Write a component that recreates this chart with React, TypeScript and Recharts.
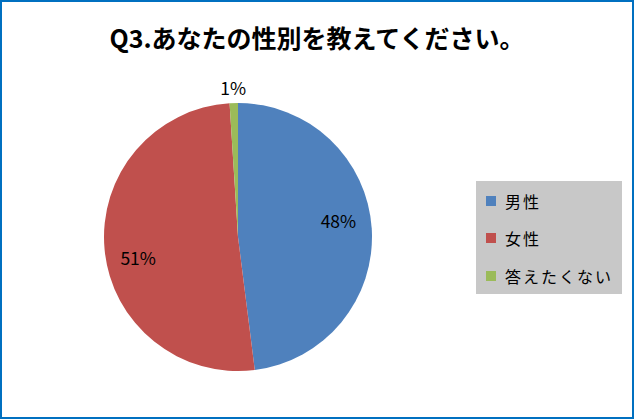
import { Legend, Pie, PieChart, Cell } from "recharts";

const categories = ["男性", "女性", "答えたくない"];
const values = [48, 51, 1];
const colors = ["#4F81BD", "#C0504D", "#9BBB59"];

const data = categories.map((name, i) => ({ name, value: values[i] }));

const RAD = Math.PI / 180;
const FONT = "'Noto Sans CJK JP', 'Noto Sans', sans-serif";

function renderLabel(props: any) {
  const { cx, cy, midAngle, outerRadius, percent } = props;
  const small = percent < 0.05;
  const r = small ? outerRadius + 16 : outerRadius * 0.76;
  const a = small ? midAngle : midAngle + 6;
  const x = cx + r * Math.cos(-a * RAD);
  const y = cy + r * Math.sin(-a * RAD);
  return (
    <text
      x={x}
      y={y}
      textAnchor="middle"
      dominantBaseline="central"
      fill="#000"
      fontSize={17.5}
      fontFamily={FONT}
    >
      {`${Math.round(percent * 100)}%`}
    </text>
  );
}

function LegendBox() {
  return (
    <div
      style={{
        background: "#C8C8C8",
        width: 146,
        height: 113,
        boxSizing: "border-box",
        padding: "1px 0 0 10px",
        fontFamily: FONT,
      }}
    >
      {categories.map((name, i) => (
        <div
          key={name}
          style={{ display: "flex", alignItems: "center", height: 37.5, fontSize: 16, letterSpacing: 2 }}
        >
          <span style={{ width: 10, height: 10, background: colors[i], marginRight: 9 }} />
          <span>{name}</span>
        </div>
      ))}
    </div>
  );
}

export default function App() {
  return (
    <div style={{ position: "fixed", left: 0, top: 0, width: 634, height: 419, background: "#fff" }}>
      <div
        style={{
          position: "absolute",
          left: 0,
          top: 19,
          width: 634,
          textAlign: "center",
          fontFamily: FONT,
          fontWeight: "bold",
          fontSize: 25,
          lineHeight: "36px",
          color: "#000",
        }}
      >
        Q3.あなたの性別を教えてください。
      </div>
      <div style={{ position: "absolute", left: 0, top: 0 }}>
        <PieChart width={634} height={419} margin={{ top: 0, right: 0, bottom: 0, left: 0 }}>
          <Pie
            data={data}
            dataKey="value"
            nameKey="name"
            cx={238}
            cy={237}
            outerRadius={134}
            startAngle={90}
            endAngle={-270}
            stroke="none"
            label={renderLabel}
            labelLine={false}
            isAnimationActive={false}
          >
            {data.map((d, i) => (
              <Cell key={d.name} fill={colors[i]} />
            ))}
          </Pie>
          <Legend
            layout="vertical"
            content={<LegendBox />}
            wrapperStyle={{ position: "absolute", left: 476, top: 181, width: 146 }}
          />
        </PieChart>
      </div>
      <div
        style={{
          position: "absolute",
          left: 0,
          top: 0,
          width: 634,
          height: 419,
          border: "2px solid #0070C0",
          boxSizing: "border-box",
          pointerEvents: "none",
        }}
      />
    </div>
  );
}
